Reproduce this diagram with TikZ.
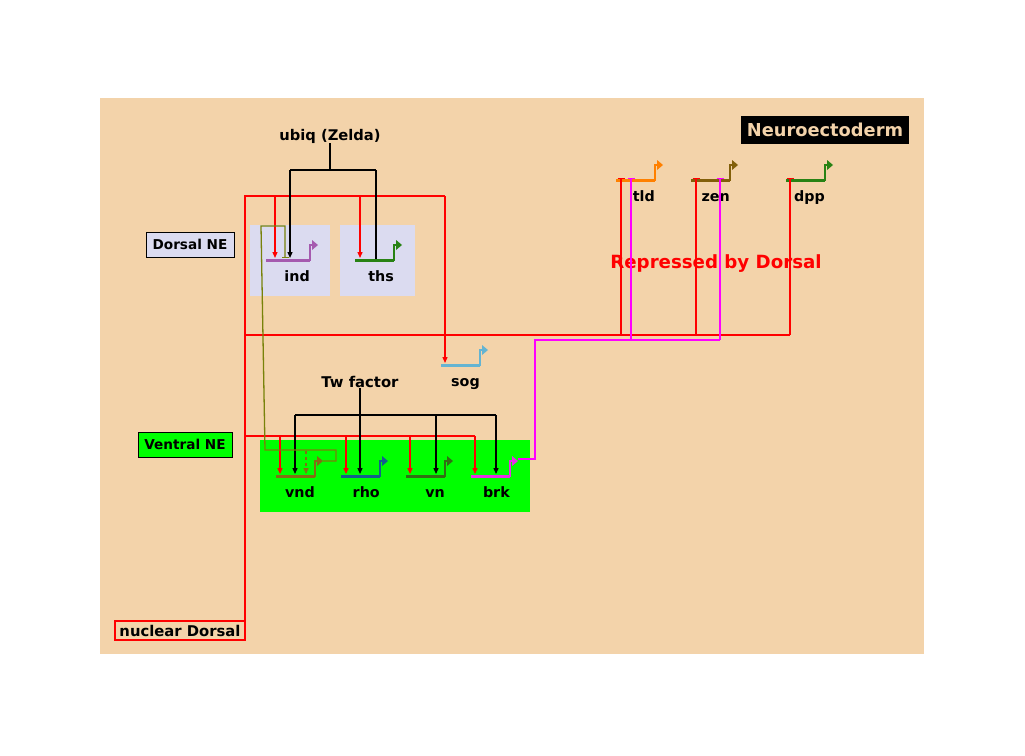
\documentclass[tikz,border=0pt]{standalone}
\usepackage{fontspec}
\setmainfont{DejaVu Sans}
\usetikzlibrary{arrows.meta}
\definecolor{tanbg}{RGB}{243,211,170}
\definecolor{lav}{RGB}{219,219,240}
\definecolor{vgreen}{RGB}{0,255,0}
\definecolor{indc}{RGB}{165,90,175}
\definecolor{thsc}{RGB}{40,130,20}
\definecolor{sogc}{RGB}{100,180,210}
\definecolor{tldc}{RGB}{255,128,0}
\definecolor{zenc}{RGB}{130,95,10}
\definecolor{vndc}{RGB}{130,110,20}
\definecolor{rhoc}{RGB}{20,95,140}
\definecolor{vnc}{RGB}{50,110,20}
\definecolor{brkc}{RGB}{230,50,230}
\definecolor{magline}{RGB}{255,0,255}
\definecolor{redline}{RGB}{255,0,0}
\definecolor{oliveline}{RGB}{120,130,10}
\newcommand\genebar[6]{%
  \draw[line width=3pt,#5] (#2,#4) -- (#3,#4);
  \draw[line width=2pt,#5] (#3,#4+1) -- (#3,#4-15) -- (#3+3,#4-15);
  \fill[#5] (#3+2,#4-20) -- (#3+8,#4-15) -- (#3+2,#4-10) -- cycle;
  \coordinate (#1-b) at (#2,#4);
  \node[lbl,anchor=base east] (#1) at (#3,#4+21.5) {#6};
}
\begin{document}
\begin{tikzpicture}[x=1pt,y=-1pt,
  lbl/.style={font=\bfseries\fontsize{14.3}{16}\selectfont,inner sep=0pt},
  wire/.style={line width=1.3pt},
  act/.style={-{Triangle[length=6pt,width=5pt]}},
  rep/.style={-{Bar[width=7pt,line width=1pt]}},
  tagbox/.style={draw=black,line width=1pt,inner sep=0pt,font=\bfseries\fontsize{13.6}{15}\selectfont}]
\useasboundingbox (0,0) rectangle (1025,755);
\fill[white] (0,0) rectangle (1025,755);
\fill[tanbg] (100,98) rectangle (924,654);
% region backgrounds
\fill[lav] (250,225) rectangle (330,296);
\fill[lav] (340,225) rectangle (415,296);
\fill[vgreen] (260,440) rectangle (530,512);
% tags
\node[fill=black,text=tanbg,inner sep=0pt,minimum width=168pt,minimum height=28pt,
  font=\bfseries\fontsize{17.8}{20}\selectfont] (neuro) at (825,130) {Neuroectoderm};
\node[tagbox,fill=lav,minimum width=88pt,minimum height=25pt] (dne) at (190,244.5) {Dorsal NE};
\node[tagbox,fill=vgreen,minimum width=94pt,minimum height=25pt] (vne) at (185,444.5) {Ventral NE};
\node[draw=redline,line width=1.5pt,inner sep=0pt,minimum width=130pt,minimum height=19pt,
  font=\bfseries\fontsize{14.8}{16}\selectfont] (nd) at (180,630.5) {nuclear Dorsal};
\node[lbl,font=\bfseries\fontsize{14.7}{16}\selectfont] (ubiq) at (330,136) {ubiq (Zelda)};
\node[lbl,font=\bfseries\fontsize{14.8}{16}\selectfont] (tw) at (360,382) {Tw factor};
\node[lbl,text=redline,font=\bfseries\fontsize{18.2}{20}\selectfont] (repd) at (716,264) {Repressed by Dorsal};
% genes
\genebar{ind}{266}{310}{260}{indc}{ind}
\genebar{ths}{355}{394}{260}{thsc}{ths}
\genebar{sog}{441}{480}{365}{sogc}{sog}
\genebar{tld}{616}{655}{180}{tldc}{tld}
\genebar{zen}{691}{730}{180}{zenc}{zen}
\genebar{dpp}{786}{825}{180}{thsc}{dpp}
\genebar{vnd}{276}{315}{476}{vndc}{vnd}
\genebar{rho}{341}{380}{476}{rhoc}{rho}
\genebar{vn}{406}{445}{476}{vnc}{vn}
\genebar{brk}{471}{510}{476}{brkc}{brk}
% hub coordinates
\coordinate (rtop) at (245,196);
\coordinate (rmid) at (245,335);
\coordinate (rlow) at (245,436);
\coordinate (ubj) at (330,170);
\coordinate (twj) at (360,415);
% red (nuclear Dorsal)
\draw[redline,wire] (rtop |- nd.north) -- (rtop) -- (445,196);
\draw[redline,wire,act] (445,196) -- (445,363);
\draw[redline,wire,act] (275,196) -- (275,258);
\draw[redline,wire,act] (360,196) -- (360,258);
\draw[redline,wire] (rmid) -- (790,335);
\draw[redline,wire,rep] (621,335) -- (621,178);
\draw[redline,wire,rep] (696,335) -- (696,178);
\draw[redline,wire,rep] (790,335) -- (790,178);
\draw[redline,wire] (rlow) -- (475,436);
\draw[redline,wire,act] (280,436) -- (280,474);
\draw[redline,wire,act] (346,436) -- (346,474);
\draw[redline,wire,act] (410,436) -- (410,474);
\draw[redline,wire,act] (475,436) -- (475,474);
% ubiq
\draw[wire] (ubiq.south) -- (ubj);
\draw[wire] (290,170) -- (376,170);
\draw[wire,act] (290,170) -- (290,258);
\draw[wire] (376,170) -- (376,259);
% Tw
\draw[wire] (tw.south) -- (twj);
\draw[wire] (295,415) -- (496,415);
\draw[wire,act] (295,415) -- (295,474);
\draw[wire,act] (twj) -- (360,474);
\draw[wire,act] (436,415) -- (436,474);
\draw[wire,act] (496,415) -- (496,474);
% vnd outputs
\draw[oliveline,wire,rep] (323,461) -- (336,461) -- (336,450) -- (265,450) -- (261,226) -- (285,226) -- (285,258);
\draw[vndc,wire,dashed,act] (306,451) -- (306,474);
% brk outputs
\draw[magline,wire] (518,459) -- (535,459) -- (535,340) -- (720,340);
\draw[magline,wire,rep] (631,340) -- (631,178);
\draw[magline,wire,rep] (720,340) -- (720,178);
\end{tikzpicture}
\end{document}
